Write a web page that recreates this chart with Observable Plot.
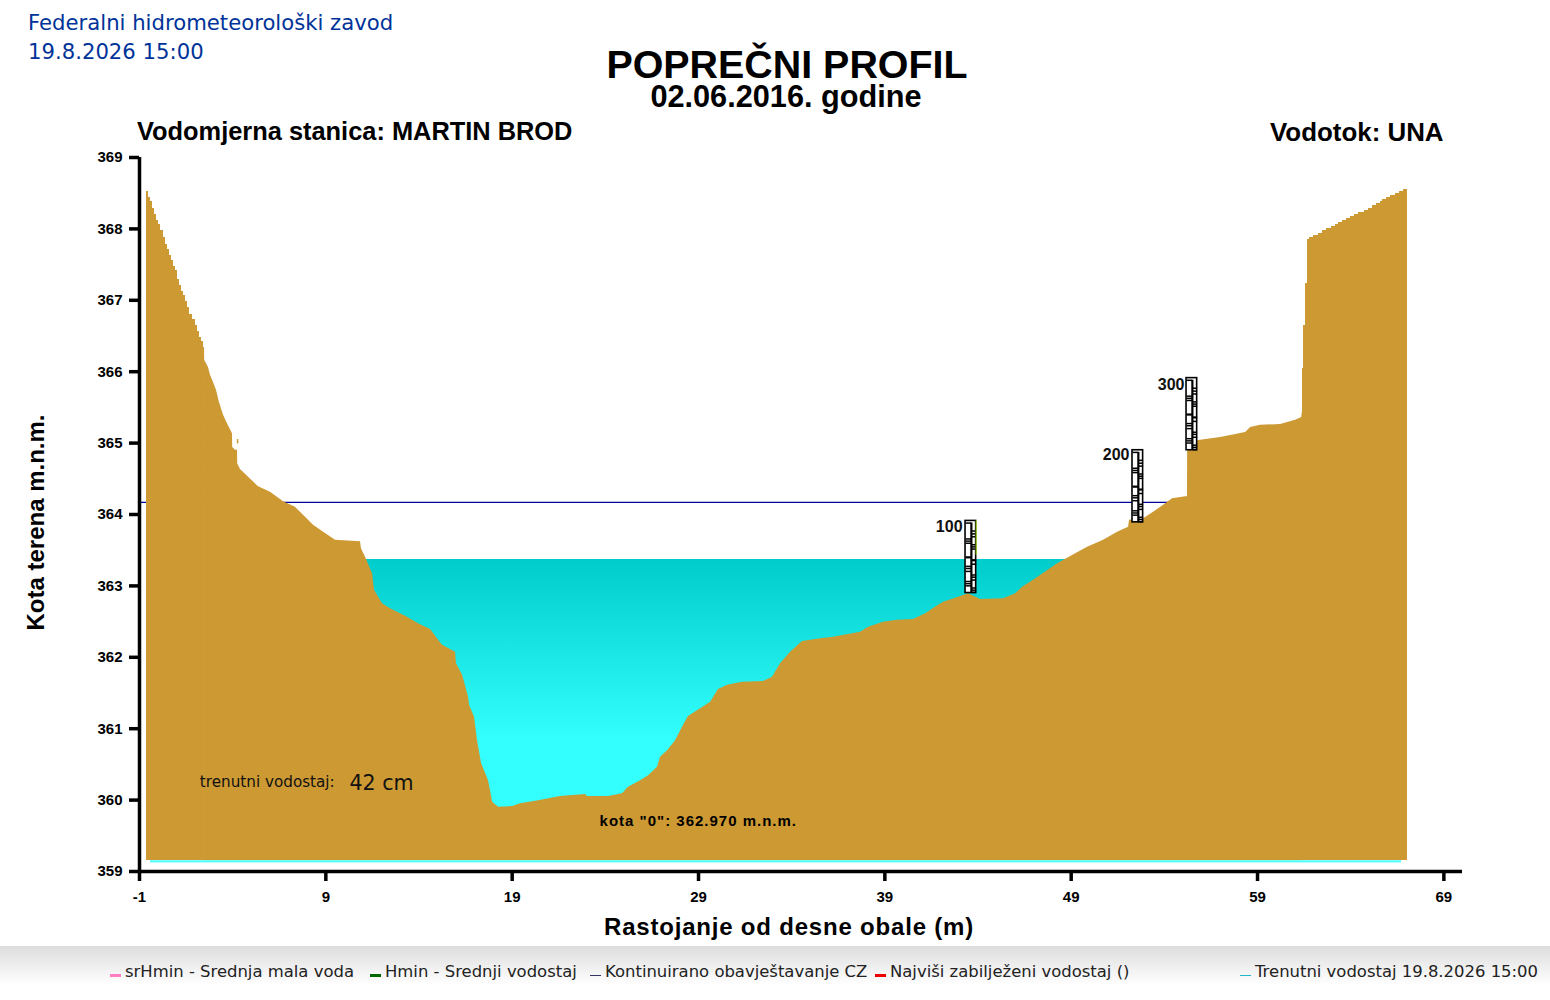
<!DOCTYPE html>
<html>
<head>
<meta charset="utf-8">
<script src="https://cdn.jsdelivr.net/npm/d3@7"></script>
<script src="https://cdn.jsdelivr.net/npm/@observablehq/plot@0.6"></script>
<style>
html,body{margin:0;padding:0;background:#fff;}
#page{width:1550px;height:1000px;position:relative;overflow:hidden;}
#head{position:relative;width:1550px;height:145px;}
#head div{position:absolute;white-space:nowrap;}
.org{font-family:"DejaVu Sans";font-size:21.2px;line-height:26px;color:#003399;left:28px;}
.t{font-family:"Liberation Sans";font-weight:bold;color:#000;line-height:.85;}
#chart svg{display:block;}
#legend{position:relative;width:1550px;height:54px;background:linear-gradient(to bottom,#dddddd 0,#ffffff 39px);}
#legend span{position:absolute;font-family:"DejaVu Sans";font-size:16.45px;color:#222;white-space:nowrap;top:17px;line-height:18px;}
#legend i{position:absolute;display:block;width:11px;}
.xlabel text{letter-spacing:.8px;}
.kota text{letter-spacing:1px;}
</style>
</head>
<body>
<div id="page">
<div id="head">
  <div class="org" style="top:10px">Federalni hidrometeorološki zavod</div>
  <div class="org" style="top:39px">19.8.2026 15:00</div>
  <div class="t" style="left:0;width:1574px;text-align:center;top:48px;font-size:39.4px">POPREČNI PROFIL</div>
  <div class="t" style="left:0;width:1572px;text-align:center;top:84px;font-size:30.7px">02.06.2016. godine</div>
  <div class="t" style="left:137px;top:121px;font-size:25.4px">Vodomjerna stanica: MARTIN BROD</div>
  <div class="t" style="left:1270px;top:121px;font-size:25.9px">Vodotok: UNA</div>
</div>
<div id="chart"></div>
<div id="legend"></div>
</div>
<script>
// Terrain, left bank staircase
const bankLeftX = [-0.62,-0.52,-0.41,-0.30,-0.19,-0.09,0.02,0.13,0.29,0.40,0.50,0.61,0.72,0.82,0.93,1.04,1.15,1.25,1.36,1.47,1.58,1.68,1.84,2.01,2.11,2.22,2.33,2.43,2.49];
const bankLeftY = [368.52,368.44,368.38,368.29,368.20,368.12,368.06,367.98,367.88,367.78,367.71,367.63,367.56,367.47,367.42,367.29,367.21,367.12,367.07,366.98,366.90,366.80,366.73,366.65,366.56,366.48,366.42,366.34,366.34];
// Terrain, main profile
const profileX = [2.49,2.50,2.70,2.81,2.97,3.13,3.29,3.51,3.72,3.99,4.00,4.15,4.26,4.27,4.42,4.85,5.39,6.03,6.73,7.37,7.80,8.34,8.88,9.52,10.86,10.91,11.13,11.51,11.61,12.04,12.47,13.38,13.97,14.62,14.99,15.26,15.96,16.01,16.34,16.66,16.71,16.98,17.14,17.36,17.73,17.84,17.95,18.27,19.02,19.45,20.41,21.59,22.94,23.04,24.17,24.92,25.24,25.89,26.32,26.80,26.96,27.34,27.77,28.14,28.46,29.11,29.65,30.07,30.56,31.36,32.49,32.97,33.40,33.94,34.58,35.55,36.25,37.70,38.13,38.93,39.68,40.54,41.19,41.72,42.15,42.96,43.49,44.14,45.37,46.02,46.39,46.98,48.27,49.24,49.88,50.74,51.49,52.08,52.13,52.89,53.42,53.96,54.44,55.14,55.24,55.25,55.94,57.02,58.36,58.63,59.16,60.24,61.04,61.37,61.42];
const profileY = [366.34,366.16,366.06,365.95,365.85,365.74,365.57,365.39,365.27,365.13,364.94,364.90,364.90,364.71,364.63,364.52,364.39,364.31,364.18,364.10,363.99,363.85,363.75,363.64,363.62,363.52,363.40,363.17,362.94,362.75,362.68,362.56,362.47,362.39,362.26,362.17,362.07,361.91,361.75,361.44,361.33,361.16,360.83,360.51,360.27,360.13,359.97,359.90,359.91,359.95,359.99,360.05,360.08,360.05,360.05,360.09,360.18,360.27,360.34,360.46,360.60,360.69,360.83,361.02,361.17,361.28,361.37,361.55,361.61,361.65,361.66,361.72,361.91,362.07,362.22,362.26,362.28,362.35,362.42,362.49,362.52,362.53,362.61,362.70,362.77,362.84,362.89,362.81,362.82,362.89,362.98,363.08,363.31,363.45,363.54,363.64,363.75,363.82,363.92,363.94,364.03,364.13,364.22,364.25,364.25,365.01,365.04,365.08,365.15,365.22,365.25,365.26,365.32,365.36,365.46];
// Terrain, right bank staircase
const bankRightX = [61.42,61.47,61.58,61.69,61.79,62.01,62.28,62.49,62.71,62.97,63.19,63.35,63.56,63.78,63.99,64.21,64.42,64.75,64.96,65.18,65.39,65.60,65.71,65.93,66.14,66.41,66.62,66.84,67.05];
const bankRightY = [366.05,366.65,367.24,367.85,367.88,367.91,367.94,367.98,368.01,368.03,368.06,368.09,368.12,368.15,368.17,368.20,368.23,368.26,368.29,368.33,368.36,368.38,368.41,368.44,368.47,368.50,368.52,368.55,368.55];
const terrainBase = 359.15;
const speckX = [4.25, 4.33];
const speckY = [364.99, 365.05];

const waterLevel = 363.37;
const waterBed = 359.85;
const waterX = [11.15, 49.2];
const waterStrip = {x: [-0.41, 66.73], y: [359.15, 359.12]};
const continuousLevel = 364.17;
const continuousX = [-1, 55];

// Gauge staffs
const staffNames = ["100","200","300"];
const staffLeft = [43.33,52.29,55.19];
const staffBase = [362.90,363.89,364.90];
const staffHeight = 1.01;
const staffWidth = 0.57;
const marksLeft = [0.03,0.25,0.28,0.31,0.50,0.51,0.63,0.66,0.70,0.84,0.87,0.90];
const marksRight = [0.14,0.18,0.22,0.33,0.36,0.39,0.54,0.55,0.60,0.75,0.78,0.82,0.93,0.96,0.99];
const labelX = [43.17,52.13,55.08];
const labelY = [363.82,364.83,365.81];

const xTicks = [-1,9,19,29,39,49,59,69];
const yTicks = [359,360,361,362,363,364,365,366,367,368,369];

const legendNames = ["srHmin - Srednja mala voda","Hmin - Srednji vodostaj","Kontinuirano obavještavanje CZ","Najviši zabilježeni vodostaj ()","Trenutni vodostaj 19.8.2026 15:00"];
const legendColors = ["#ff80c0","#006600","#333366","#ee0000","#20b8c8"];
const legendLeft = [110,370,590,875,1240];
const legendThick = [3,3,1,3,1];

const rows = (xs, ys) => xs.map((x, i) => ({x, y: ys[i]}));
const staffs = staffNames.map((name, i) => ({name, left: staffLeft[i], base: staffBase[i], lx: labelX[i], ly: labelY[i]}));
const ticksOf = (list, from, to) => staffs.flatMap(s => list.map(f => ({
  x1: s.left + from * staffWidth, x2: s.left + to * staffWidth, y: s.base + staffHeight * (1 - f)
})));

const gradient = () => {
  const defs = d3.create("svg:defs");
  const g = defs.append("linearGradient").attr("id","water").attr("x1",0).attr("y1",0).attr("x2",0).attr("y2",1);
  g.append("stop").attr("offset","0%").attr("stop-color","#00cccc");
  g.append("stop").attr("offset","72%").attr("stop-color","#33ffff");
  g.append("stop").attr("offset","100%").attr("stop-color","#33ffff");
  return defs.node();
};

const soil = "#cc9933";
const plot = Plot.plot({
  width: 1550, height: 801,
  marginLeft: 139, marginRight: 88, marginTop: 12, marginBottom: 75,
  style: {fontFamily: "Liberation Sans", background: "transparent", overflow: "visible"},
  x: {domain: [-1, 70]},
  y: {domain: [359, 369]},
  marks: [
    gradient,
    Plot.ruleY([continuousLevel], {x1: continuousX[0], x2: continuousX[1], stroke: "#000099", strokeWidth: 1.2}),
    Plot.rect([0], {x1: waterX[0], x2: waterX[1], y1: waterBed, y2: waterLevel, fill: "url(#water)"}),
    Plot.areaY(rows(bankLeftX, bankLeftY), {x: "x", y1: terrainBase, y2: "y", fill: soil, curve: "step-after", shapeRendering: "crispEdges"}),
    Plot.areaY(rows(profileX, profileY), {x: "x", y1: terrainBase, y2: "y", fill: soil}),
    Plot.areaY(rows(bankRightX, bankRightY), {x: "x", y1: terrainBase, y2: "y", fill: soil, curve: "step-after", shapeRendering: "crispEdges"}),
    Plot.rect([0], {x1: speckX[0], x2: speckX[1], y1: speckY[0], y2: speckY[1], fill: soil}),
    Plot.rect([0], {x1: waterStrip.x[0], x2: waterStrip.x[1], y1: waterStrip.y[1], y2: waterStrip.y[0], fill: "#4dffff"}),
    // gauge staffs
    Plot.rect(staffs, {x1: "left", x2: d => d.left + staffWidth, y1: "base", y2: d => d.base + staffHeight, fill: "#fff", stroke: "#000", strokeWidth: 1.6}),
    Plot.ruleX(staffs, {x: d => d.left + staffWidth * 0.55, y1: "base", y2: d => d.base + staffHeight * 0.97, stroke: "#000", strokeWidth: 2.2}),
    Plot.link(ticksOf(marksLeft, 0, 0.55), {x1: "x1", x2: "x2", y1: "y", y2: "y", stroke: "#000", strokeWidth: 1.5}),
    Plot.link(ticksOf(marksRight, 0.55, 1), {x1: "x1", x2: "x2", y1: "y", y2: "y", stroke: "#000", strokeWidth: 1.5}),
    Plot.ruleX([0], {x: () => staffLeft[0] + staffWidth, y1: 363.43, y2: 363.91, stroke: "#a0e000", strokeWidth: 1}),
    Plot.text(staffs, {x: "lx", y: "ly", text: "name", textAnchor: "end", fontWeight: "bold", fontSize: 16, fill: "#111"}),
    // annotations
    Plot.text(["trenutni vodostaj:"], {x: 2.24, y: 360.25, textAnchor: "start", fontFamily: "DejaVu Sans", fontSize: 15.2, fill: "#111"}),
    Plot.text(["42 cm"], {x: 10.27, y: 360.23, textAnchor: "start", fontFamily: "DejaVu Sans", fontSize: 20.6, fill: "#111"}),
    Plot.text(['kota "0": 362.970 m.n.m.'], {x: 23.69, y: 359.71, textAnchor: "start", fontWeight: "bold", fontSize: 15, fill: "#000", className: "kota"}),
    // axes
    Plot.ruleX([-1], {stroke: "#000", strokeWidth: 3.5}),
    Plot.ruleY([359], {stroke: "#000", strokeWidth: 3.5}),
    Plot.axisX({ticks: xTicks, tickFormat: d => String(d), tickSize: 10, tickPadding: 10, strokeWidth: 3.5, label: null, fontSize: 15, fontWeight: "bold", color: "#000"}),
    Plot.axisY({ticks: yTicks, tickFormat: d => String(d), tickSize: 10, tickPadding: 7, strokeWidth: 3.5, label: null, fontSize: 15, fontWeight: "bold", color: "#000"}),
    Plot.text(["Rastojanje od desne obale (m)"], {frameAnchor: "bottom", dx: -12, dy: 56, lineAnchor: "middle", fontWeight: "bold", fontSize: 24, fill: "#000", className: "xlabel"}),
    Plot.text(["Kota terena m.n.m."], {frameAnchor: "left", dx: -103, dy: 8, rotate: -90, textAnchor: "middle", lineAnchor: "middle", fontWeight: "bold", fontSize: 24, fill: "#000"})
  ]
});
document.getElementById("chart").append(plot);

const legend = d3.select("#legend");
legendNames.forEach((name, i) => {
  legend.append("i").style("left", legendLeft[i] + "px").style("top", (974 - 946 + (legendThick[i] === 1 ? 1 : 0)) + "px")
    .style("height", legendThick[i] + "px").style("background", legendColors[i]);
  legend.append("span").style("left", (legendLeft[i] + 15) + "px").text(name);
});
</script>
</body>
</html>
